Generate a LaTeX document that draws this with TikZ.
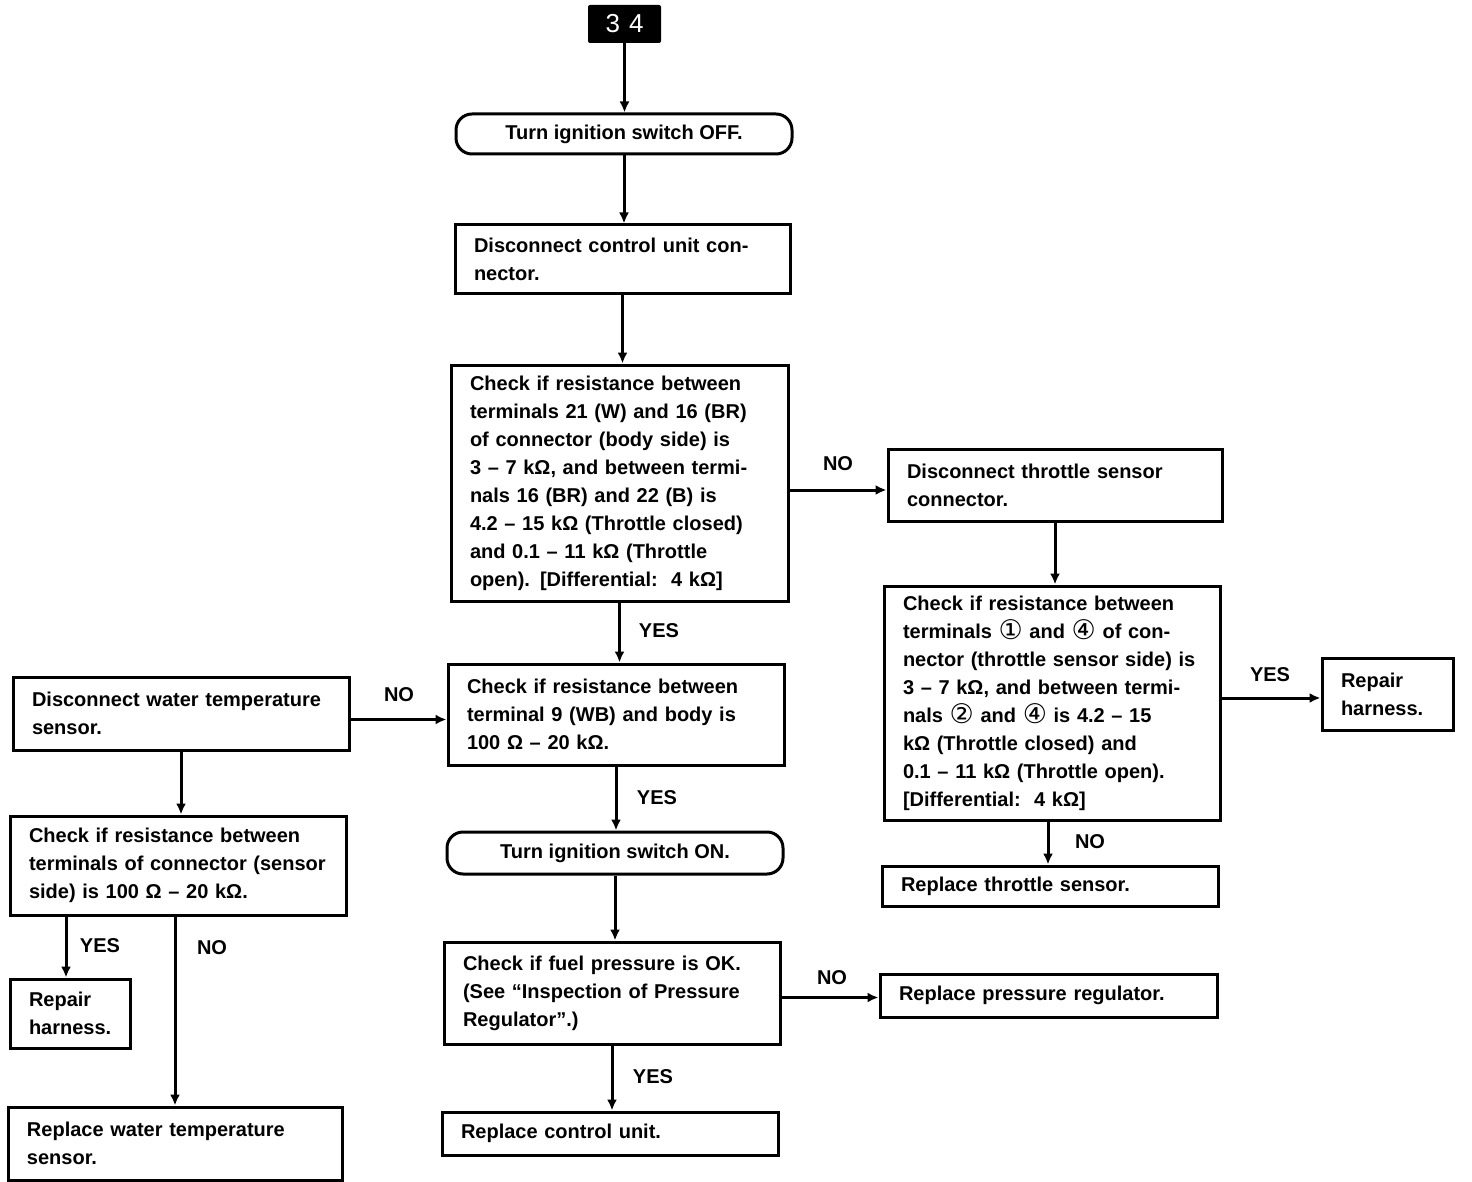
\documentclass[tikz,border=0pt]{standalone}
\usepackage{fontspec}
\setmainfont{Liberation Sans}
\newfontfamily\djv{DejaVu Sans}
\usetikzlibrary{arrows.meta,calc}
\begin{document}
\begin{tikzpicture}[x=1pt,y=-1pt,
  every node/.style={font=\fontsize{20}{28}\selectfont\bfseries},
  box/.style={draw,line width=3pt,rectangle,inner xsep=19pt,inner ysep=4pt,align=left},
  stad/.style={draw,line width=3pt,rectangle,rounded corners=16pt,align=center,inner sep=2pt},
  arr/.style={line width=3pt,-{Latex[length=11pt,width=10pt]}},
  lbl/.style={inner sep=0pt}
]
\useasboundingbox (0,0) rectangle (1472,1182);
\newcommand{\bx}[6]{% name, cx, cy, w, h, text
  \node[box,minimum width=#4pt,minimum height=#5pt,text width=#4pt-38pt] (#1) at (#2,#3) {#6};}
\newcommand{\cd}[1]{\raisebox{-1.5pt}{\fontsize{27}{28}\selectfont\djv\mdseries #1}}

\node[fill=black,rounded corners=2pt,minimum width=73pt,minimum height=38pt,inner sep=0pt,text=white,font=\fontsize{26}{26}\selectfont\mdseries] (n34) at (624.5,24) {3\hspace{9pt}4};

\node[stad,minimum width=336pt,minimum height=40pt] (off) at (624,134) {Turn ignition switch OFF.};

\bx{dcu}{622.5}{259.5}{335}{69}{Disconnect control unit con-\\nector.}

\bx{chk1}{619.5}{483}{337}{236}{Check if resistance between\\terminals 21 (W) and 16 (BR)\\of connector (body side) is\\3 – 7 kΩ, and between termi-\\nals 16 (BR) and 22 (B) is\\4.2 – 15 kΩ (Throttle closed)\\and 0.1 – 11 kΩ (Throttle\\open). [Differential:\ \ 4 kΩ]}

\bx{dts}{1055}{485}{334}{72}{Disconnect throttle sensor\\connector.}

\bx{chkt}{1052}{703}{336}{234}{Check if resistance between\\terminals \cd{①} and \cd{④} of con-\\nector (throttle sensor side) is\\3 – 7 kΩ, and between termi-\\nals \cd{②} and \cd{④} is 4.2 – 15\\kΩ (Throttle closed) and\\0.1 – 11 kΩ (Throttle open).\\{[}Differential:\ \ 4 kΩ]}

\bx{rh1}{1387.5}{694}{131}{72}{Repair\\harness.}

\bx{rts}{1050}{886}{336}{40}{Replace throttle sensor.}

\bx{chk2}{616}{714.5}{336}{101}{Check if resistance between\\terminal 9 (WB) and body is\\100 Ω – 20 kΩ.}

\bx{dwt}{181}{713.5}{336}{73}{Disconnect water temperature\\sensor.}

\node[stad,minimum width=336pt,minimum height=42pt] (on) at (615,853) {Turn ignition switch ON.};

\bx{fuel}{612}{993}{336}{102}{Check if fuel pressure is OK.\\(See “Inspection of Pressure\\Regulator”.)}

\bx{rpr}{1048.5}{995.5}{337}{43}{Replace pressure regulator.}

\bx{rcu}{610}{1133.5}{336}{43}{Replace control unit.}

\bx{chkw}{178}{865.5}{336}{99}{Check if resistance between\\terminals of connector (sensor\\side) is 100 Ω – 20 kΩ.}

\bx{rh2}{70}{1013.5}{120}{69}{Repair\\harness.}

\bx{rwt}{175}{1143.5}{334}{73}{Replace water temperature\\sensor.}

% connectors
\draw[arr] (n34.south) -- (n34.south |- off.north);
\draw[arr] (off.south) -- (off.south |- dcu.north);
\draw[arr] (dcu.south) -- (dcu.south |- chk1.north);
\draw[arr] (chk1.south) -- (chk1.south |- chk2.north);
\draw[arr] (chk2.south) -- (chk2.south |- on.north);
\draw[arr] (on.south) -- (on.south |- fuel.north);
\draw[arr] (fuel.south) -- (fuel.south |- rcu.north);
\draw[arr] (dts.south) -- (dts.south |- chkt.north);
\coordinate (c1) at ([xshift=-4pt]chkt.south);
\draw[arr] (c1) -- (c1 |- rts.north);
\draw[arr] (dwt.south) -- (dwt.south |- chkw.north);
\coordinate (c2) at ([xshift=-4pt]rh2.north);
\draw[arr] (chkw.south -| c2) -- (c2);
\coordinate (c3) at ([xshift=-3pt]chkw.south);
\draw[arr] (c3) -- (c3 |- rwt.north);

\coordinate (a1) at ([yshift=-5pt]dts.west);
\draw[arr] (chk1.east |- a1) -- (a1);
\coordinate (a2) at ([yshift=-4pt]rh1.west);
\draw[arr] (chkt.east |- a2) -- (a2);
\coordinate (a3) at ([yshift=-6pt]dwt.east);
\draw[arr] (a3) -- (a3 -| chk2.west);
\coordinate (a4) at ([yshift=-2pt]rpr.west);
\draw[arr] (fuel.east |- a4) -- (a4);

% labels
\node[lbl] (l1) at (838,464) {NO};
\node[lbl] (l2) at (1270,675) {YES};
\node[lbl] (l3) at (1090,842) {NO};
\node[lbl] (l4) at (659,631) {YES};
\node[lbl] (l5) at (399,695) {NO};
\node[lbl] (l6) at (657,798) {YES};
\node[lbl] (l7) at (832,978) {NO};
\node[lbl] (l8) at (653,1077) {YES};
\node[lbl] (l9) at (100,946) {YES};
\node[lbl] (l10) at (212,948) {NO};
\end{tikzpicture}
\end{document}
